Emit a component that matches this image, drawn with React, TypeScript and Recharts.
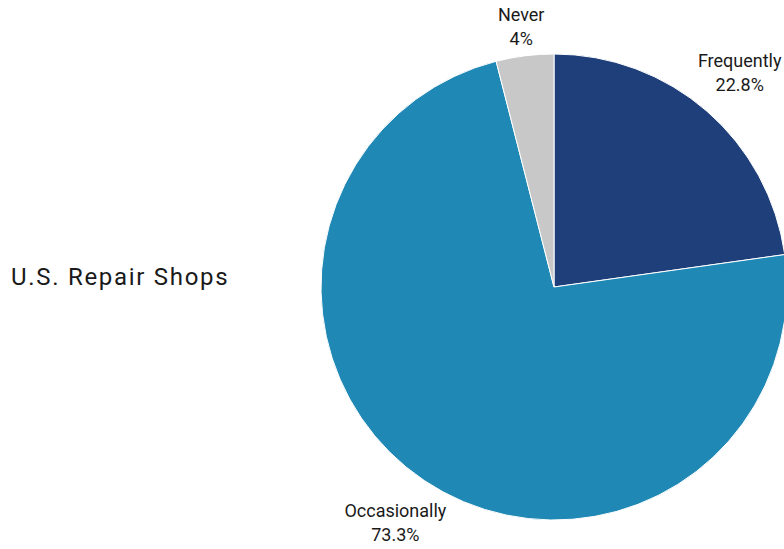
import { Cell, Pie, PieChart } from "recharts";

const categories = ["Frequently", "Occasionally", "Never"];
const shares = [22.8, 73.3, 4];
const sliceColors = ["#1f3f7b", "#1f88b4", "#c8c8c8"];
const chartTitle = "U.S. Repair Shops";

const data = categories.map((name, i) => ({ name, value: shares[i] }));

const RADIAN = Math.PI / 180;
const FONT = "Roboto, 'Noto Sans', sans-serif";

function renderLabel(props: any) {
  const { cx, cy, midAngle, outerRadius, name, value } = props;
  const fontSize = 18;
  const lineGap = 24;
  const w = String(name).length * 0.48 * fontSize;
  const h = 39;
  const cos = Math.cos(-midAngle * RADIAN);
  const sin = Math.sin(-midAngle * RADIAN);
  // push the label box out until its nearest edge clears the rim
  const half = Math.abs(cos) * (w / 2) + Math.abs(sin) * (h / 2);
  const r = outerRadius + 7 + half;
  const x = cx + r * cos;
  const y = cy + r * sin;
  const base1 = y - h / 2 + 13;
  return (
    <text x={x} y={base1} textAnchor="middle" fontFamily={FONT} fontSize={fontSize} fill="#1a1a1a">
      <tspan x={x} y={base1}>{name}</tspan>
      <tspan x={x} y={base1 + lineGap}>{`${value}%`}</tspan>
    </text>
  );
}

export default function App() {
  return (
    <div style={{ position: "absolute", left: 0, top: 0, width: 784, height: 549, background: "#fff" }}>
      <PieChart width={784} height={549} margin={{ top: 0, right: 0, bottom: 0, left: 0 }}>
        <text x={11} y={285} fontFamily={FONT} fontSize={24} letterSpacing={1.7} fill="#1a1a1a">
          {chartTitle}
        </text>
        <Pie
          data={data}
          dataKey="value"
          nameKey="name"
          cx={554}
          cy={287}
          outerRadius={233}
          startAngle={90}
          endAngle={-270}
          stroke="#ffffff"
          strokeWidth={1}
          labelLine={false}
          label={renderLabel}
          isAnimationActive={false}
        >
          {data.map((d, i) => (
            <Cell key={d.name} fill={sliceColors[i]} />
          ))}
        </Pie>
      </PieChart>
    </div>
  );
}
